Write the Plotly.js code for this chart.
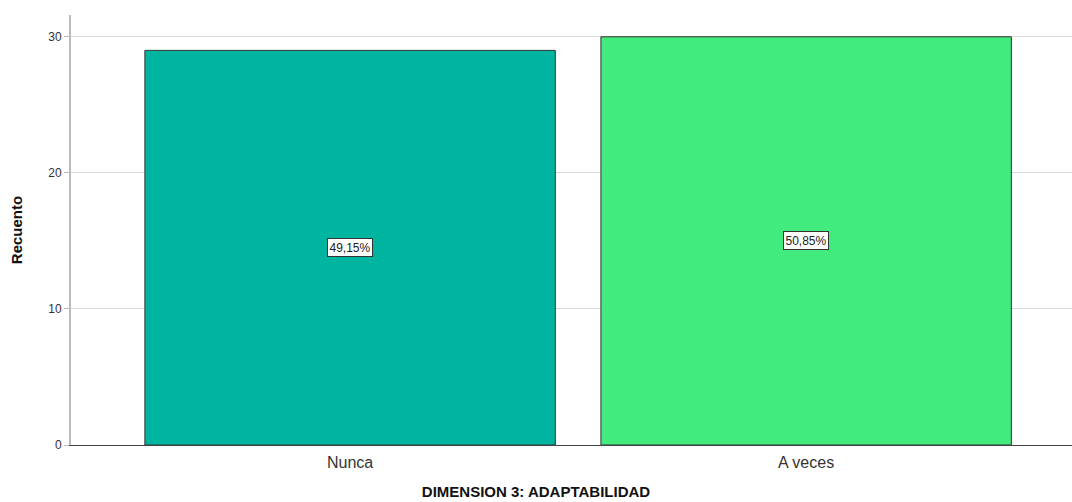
<!DOCTYPE html>
<html>
<head>
<meta charset="utf-8">
<script src="https://cdn.plot.ly/plotly-3.0.1.min.js"></script>
<style>html,body{margin:0;padding:0;background:#fff;}#chart{width:1072px;height:502px;}</style>
</head>
<body>
<div id="chart"></div>
<script>
var categories = ["Nunca", "A veces"];
var counts = [29, 30];
var percentLabels = ["49,15%", "50,85%"];
var barColors = ["#00B5A0", "#43EA7D"];
var yTickValues = [0, 10, 20, 30];

var trace = {
  type: "bar",
  x: categories,
  y: counts,
  width: 0.9,
  marker: {color: barColors, line: {color: "#333333", width: 1}},
  hoverinfo: "none"
};

var annotations = categories.map(function (c, i) {
  return {
    x: c, y: counts[i] / 2, xref: "x", yref: "y",
    text: percentLabels[i], showarrow: false,
    font: {family: "Liberation Sans, Arial, sans-serif", size: 12, color: "#222"},
    bgcolor: "#ffffff", bordercolor: "#333333", borderwidth: 1, borderpad: 1.5
  };
});

var layout = {
  width: 1072, height: 502,
  margin: {l: 71, r: 0, t: 15, b: 57},
  paper_bgcolor: "#ffffff", plot_bgcolor: "#ffffff",
  showlegend: false,
  bargap: 0.1,
  font: {family: "Liberation Sans, Arial, sans-serif"},
  title: {
    text: "<b>DIMENSION 3: ADAPTABILIDAD</b>",
    font: {size: 15, color: "#111"},
    x: 0.5, xref: "container", xanchor: "center",
    y: 0.02, yref: "container", yanchor: "middle"
  },
  xaxis: {
    type: "category",
    range: [-0.612, 1.583],
    showgrid: false,
    showline: true, linecolor: "#444444", linewidth: 1,
    ticks: "", zeroline: false,
    ticklabelstandoff: 3,
    tickfont: {size: 16, color: "#333"}
  },
  yaxis: {
    range: [0, 31.6],
    tickvals: yTickValues,
    showgrid: true, gridcolor: "#d9d9d9", gridwidth: 1,
    showline: true, linecolor: "#bbbbbb", linewidth: 2,
    ticks: "outside", ticklen: 5, tickcolor: "#bbbbbb",
    zeroline: false,
    tickfont: {size: 12, color: "#333"},
    title: {text: "<b>Recuento</b>", font: {size: 15, color: "#111"}, standoff: 22}
  },
  annotations: annotations
};

Plotly.newPlot("chart", [trace], layout, {displayModeBar: false, staticPlot: true});
</script>
</body>
</html>
